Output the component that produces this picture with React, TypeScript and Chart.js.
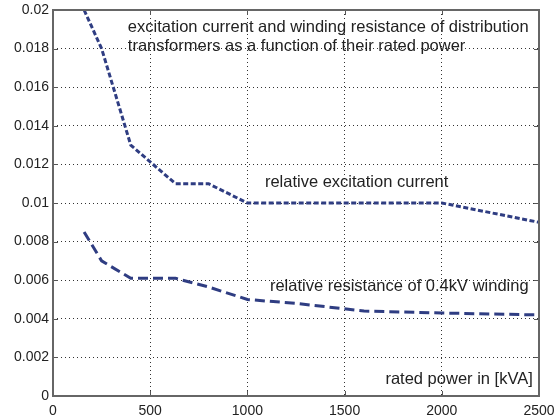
import React, { useEffect, useRef } from "react";
import { Chart, registerables } from "chart.js";

Chart.register(...registerables);

const ratedPower = [160, 250, 400, 630, 800, 1000, 1250, 1600, 2000, 2500];
const excitationCurrent = [0.02, 0.018, 0.013, 0.011, 0.011, 0.01, 0.01, 0.01, 0.01, 0.009];
const windingResistance = [0.0085, 0.007, 0.0061, 0.0061, 0.00565, 0.005, 0.0048, 0.0044, 0.0043, 0.0042];

const xTicks = [0, 500, 1000, 1500, 2000, 2500];
const xTickLabels = ["0", "500", "1000", "1500", "2000", "2500"];
const yTicks = [0, 0.002, 0.004, 0.006, 0.008, 0.01, 0.012, 0.014, 0.016, 0.018, 0.02];
const yTickLabels = ["0", "0.002", "0.004", "0.006", "0.008", "0.01", "0.012", "0.014", "0.016", "0.018", "0.02"];

const annotations = [
  { text: "excitation current and winding resistance of distribution", x: 385, y: 0.01912, align: "left" },
  { text: "transformers as a function of their rated power", x: 385, y: 0.0181, align: "left" },
  { text: "relative excitation current", x: 1090, y: 0.01106, align: "left" },
  { text: "relative resistance of 0.4kV winding", x: 1116, y: 0.00566, align: "left" },
  { text: "rated power in [kVA]", x: 2468, y: 0.00088, align: "right" },
];

const FONT = "'Liberation Sans', Arial, sans-serif";
const LINE_COLOR = "#2f3d82";

const findLabel = (ticks: number[], labels: string[], value: any) => {
  const idx = ticks.findIndex((t) => Math.abs(t - Number(value)) < 1e-9);
  return idx >= 0 ? labels[idx] : "";
};

const framePlugin = {
  id: "framePlugin",
  beforeDraw(chart: any) {
    const ctx = chart.ctx;
    ctx.save();
    ctx.fillStyle = "#ffffff";
    ctx.fillRect(0, 0, chart.width, chart.height);
    ctx.restore();
  },
  afterDraw(chart: any) {
    const ctx = chart.ctx;
    const { left, right, top, bottom } = chart.chartArea;
    const xs = chart.scales.x;
    const ys = chart.scales.y;
    ctx.save();
    ctx.fillStyle = "#222222";
    ctx.font = `16.5px ${FONT}`;
    ctx.textBaseline = "middle";
    for (const a of annotations) {
      ctx.textAlign = a.align;
      ctx.fillText(a.text, xs.getPixelForValue(a.x), ys.getPixelForValue(a.y));
    }
    ctx.strokeStyle = "#555555";
    ctx.lineWidth = 1;
    const tl = 5;
    ctx.beginPath();
    for (const v of xTicks) {
      const px = Math.round(xs.getPixelForValue(v)) + 0.5;
      ctx.moveTo(px, bottom);
      ctx.lineTo(px, bottom - tl);
      ctx.moveTo(px, top);
      ctx.lineTo(px, top + tl);
    }
    for (const v of yTicks) {
      const py = Math.round(ys.getPixelForValue(v)) + 0.5;
      ctx.moveTo(left, py);
      ctx.lineTo(left + tl, py);
      ctx.moveTo(right, py);
      ctx.lineTo(right - tl, py);
    }
    ctx.stroke();
    ctx.strokeStyle = "#666666";
    ctx.lineWidth = 2;
    ctx.strokeRect(left, top, right - left, bottom - top);
    ctx.restore();
  },
};

export default function App() {
  const canvasRef = useRef<HTMLCanvasElement | null>(null);

  useEffect(() => {
    document.body.style.margin = "0";
    const canvas = canvasRef.current;
    if (!canvas) return;
    const chart = new Chart(canvas, {
      type: "line",
      data: {
        datasets: [
          {
            label: "relative excitation current",
            data: ratedPower.map((p, i) => ({ x: p, y: excitationCurrent[i] })),
            borderColor: LINE_COLOR,
            borderWidth: 3,
            borderDash: [5, 2.5],
            pointRadius: 0,
            tension: 0,
            fill: false,
          },
          {
            label: "relative resistance of 0.4kV winding",
            data: ratedPower.map((p, i) => ({ x: p, y: windingResistance[i] })),
            borderColor: LINE_COLOR,
            borderWidth: 3,
            borderDash: [10, 5],
            pointRadius: 0,
            tension: 0,
            fill: false,
          },
        ],
      },
      options: {
        animation: false,
        responsive: false,
        maintainAspectRatio: false,
        events: [],
        layout: { padding: { top: 10, right: 17, left: 0, bottom: 0 } },
        plugins: {
          legend: { display: false },
          tooltip: { enabled: false },
        },
        scales: {
          x: {
            type: "linear",
            min: 0,
            max: 2500,
            afterBuildTicks: (scale: any) => {
              scale.ticks = xTicks.map((v) => ({ value: v }));
            },
            afterFit: (scale: any) => {
              scale.height = 23;
              scale.paddingLeft = 0;
              scale.paddingRight = 0;
            },
            ticks: {
              font: { family: FONT, size: 14 },
              color: "#222222",
              padding: 7,
              maxRotation: 0,
              autoSkip: false,
              callback: (value: any) => findLabel(xTicks, xTickLabels, value),
            },
            grid: {
              color: "#333333",
              lineWidth: 1,
              drawTicks: false,
            },
            border: { display: false, dash: [1, 3] },
          },
          y: {
            type: "linear",
            min: 0,
            max: 0.02,
            afterBuildTicks: (scale: any) => {
              scale.ticks = yTicks.map((v) => ({ value: v }));
            },
            afterFit: (scale: any) => {
              scale.width = 53;
              scale.paddingTop = 0;
              scale.paddingBottom = 0;
            },
            ticks: {
              font: { family: FONT, size: 14 },
              color: "#222222",
              padding: 4,
              autoSkip: false,
              callback: (value: any) => findLabel(yTicks, yTickLabels, value),
            },
            grid: {
              color: "#333333",
              lineWidth: 1,
              drawTicks: false,
            },
            border: { display: false, dash: [1, 3] },
          },
        },
      },
      plugins: [framePlugin],
    } as any);
    return () => chart.destroy();
  }, []);

  return (
    <div style={{ position: "absolute", left: 0, top: 0, width: 556, height: 419 }}>
      <canvas ref={canvasRef} width={556} height={419} style={{ display: "block", width: 556, height: 419 }} />
    </div>
  );
}
